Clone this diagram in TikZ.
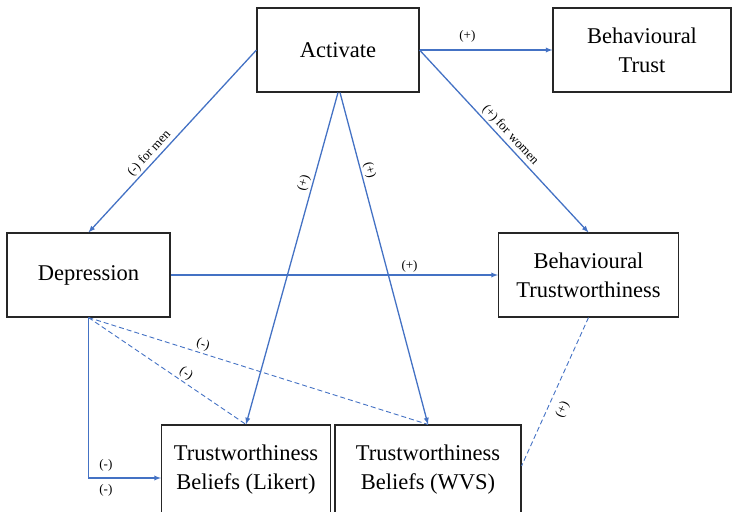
\documentclass[tikz,border=0pt]{standalone}
\usepackage{fontspec}
\setmainfont{Liberation Serif}
\usetikzlibrary{positioning,arrows}
\definecolor{linkblue}{HTML}{4472C4}

\begin{document}
\begin{tikzpicture}[x=1pt,y=-1pt,on grid,>=latex,
	box/.style={draw=black!85,line width=1.1pt,align=center,inner sep=0pt,
		minimum height=84pt,font=\fontsize{22.5}{29}\selectfont},
	link/.style={->,draw=linkblue,line width=1.3pt},
	dashlink/.style={draw=linkblue,line width=0.9pt,dash pattern=on 5pt off 3pt},
	lbl/.style={font=\fontsize{13}{15}\selectfont,inner sep=2pt}]
	\useasboundingbox (0,0) rectangle (732,512);

	\node[box,minimum width=162pt](act) at (338,50){Activate};
	\node[box,minimum width=178pt](btrust)[right=304pt of act]{Behavioural\\Trust};
	\node[box,minimum width=163pt](dep) at (88.5,275){Depression};
	\node[box,minimum width=180pt](btw)[right=500pt of dep]{Behavioural\\Trustworthiness};
	\node[box,minimum width=169pt,minimum height=90pt](lik) at (246,470){Trustworthiness\\Beliefs (Likert)};
	\node[box,minimum width=186pt,minimum height=90pt](wvs)[right=182pt of lik]{Trustworthiness\\Beliefs (WVS)};

	\draw[link] (act.east) -- node[lbl,above=5pt,pos=0.36]{(+)} (btrust.west);
	\draw[link] (act.west) -- node[lbl,sloped,above,pos=0.6]{(-) for men} (dep.north);
	\draw[link] (act.east) -- node[lbl,sloped,above,pos=0.5]{(+) for women} (btw.north);
	\draw[link] (act.south) -- node[lbl,sloped,above,pos=0.28]{(+)} (lik.north);
	\draw[link] ([xshift=2pt]act.south) -- node[lbl,sloped,above,pos=0.24]{(+)} (wvs.north);
	\draw[link] (dep.east) -- node[lbl,above,pos=0.73]{(+)} (btw.west);
	\draw[link] (dep.south) |- node[lbl,above=4pt,pos=0.62]{(-)} node[lbl,below=4pt,pos=0.62]{(-)} ([yshift=-8pt]lik.west);
	\draw[dashlink] (dep.south) -- node[lbl,sloped,above,pos=0.59]{(-)} (lik.north);
	\draw[dashlink] (dep.south) -- node[lbl,sloped,above,pos=0.33]{(-)} (wvs.north);
	\draw[dashlink] (btw.south) -- node[lbl,sloped,below=6pt,pos=0.58]{(+)} ([yshift=4pt]wvs.east);
\end{tikzpicture}
\end{document}
